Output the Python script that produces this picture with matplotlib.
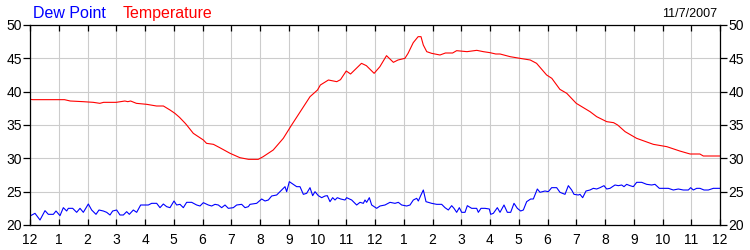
#!/usr/bin/env python3
"""Daily temperature / dew point chart for 11/7/2007."""
import matplotlib
matplotlib.use("Agg")
import matplotlib.pyplot as plt

# hours since midnight
temp_hours = [0, 0.1, 1.04, 1.2, 1.4, 1.85, 2.2, 2.43, 2.56, 3.0, 3.3, 3.4, 3.5, 3.7,
              4.06, 4.4, 4.64, 4.87, 5.04, 5.2, 5.4, 5.45, 5.68, 6.03, 6.14, 6.38,
              6.6, 6.96, 7.3, 7.6, 7.94, 8.11, 8.46, 8.81, 9.1, 9.74, 10.0, 10.1,
              10.38, 10.67, 10.8, 11.0, 11.15, 11.53, 11.7, 11.97, 12.17, 12.4,
              12.64, 12.8, 13.04, 13.15, 13.33, 13.5, 13.6, 13.68, 13.8, 13.97,
              14.26, 14.45, 14.7, 14.84, 15.2, 15.54, 15.77, 16.0, 16.2, 16.35,
              16.7, 17.04, 17.4, 17.62, 17.97, 18.15, 18.43, 18.67, 19.0, 19.48,
              19.71, 20.06, 20.3, 20.44, 20.7, 21.1, 21.68, 22.15, 22.6, 22.96,
              23.3, 23.42, 24.0]
temperature = [38.85, 38.8, 38.8, 38.8, 38.6, 38.5, 38.4, 38.25, 38.4, 38.4, 38.6,
               38.5, 38.6, 38.25, 38.1, 37.85, 37.85, 37.25, 36.75, 36.15, 35.25,
               35.0, 33.75, 32.75, 32.25, 32.1, 31.6, 30.75, 30.1, 29.85, 29.85,
               30.25, 31.25, 33.0, 35.0, 39.25, 40.25, 41.0, 41.75, 41.5, 41.8,
               43.1, 42.65, 44.25, 43.9, 42.75, 43.75, 45.4, 44.4, 44.75, 45.0,
               45.75, 47.35, 48.25, 48.25, 47.0, 46.0, 45.75, 45.5, 45.8, 45.8,
               46.15, 46.0, 46.2, 46.0, 45.85, 45.65, 45.65, 45.25, 45.0, 44.75,
               44.25, 42.5, 42.0, 40.35, 39.75, 38.25, 37.0, 36.25, 35.5, 35.35,
               35.0, 34.0, 33.0, 32.1, 31.75, 31.1, 30.65, 30.65, 30.35, 30.35]

# dew point read as (zoomed pixel x, value) per segment, converted to hours below
dew_seg1_x = [92, 105, 120, 135, 145, 160, 168, 180, 190, 200, 205, 218, 230, 240,
              250, 265, 275, 288, 297, 310, 320, 330, 338, 350, 360, 370, 380, 388,
              400, 410, 422, 435, 445, 455, 470, 480, 490, 500, 510, 522, 530, 540,
              550, 560, 575, 590, 600, 610, 625, 635, 645, 655, 665, 675, 685, 700,
              710, 725, 735, 745]
dew_seg1 = [21.4, 21.75, 20.75, 22.15, 21.6, 21.6, 22.1, 21.4, 22.6, 22.1, 22.5,
            22.5, 21.9, 22.5, 21.9, 23.15, 22.25, 21.6, 22.25, 22.1, 21.9, 21.5,
            22.1, 22.25, 21.5, 21.5, 22.0, 21.6, 22.25, 21.9, 23.0, 23.0, 23.0,
            23.25, 23.25, 22.6, 23.15, 22.75, 22.6, 23.6, 23.0, 23.1, 22.6, 23.4,
            23.4, 23.0, 22.85, 23.35, 23.0, 22.85, 23.1, 23.0, 22.6, 23.0, 22.5,
            22.6, 23.0, 23.1, 22.6, 22.75]
dew_seg2_x = [0, 20, 35, 45, 55, 65, 80, 95, 105, 110, 118, 130, 140, 150, 160, 170,
              180, 188, 195, 205, 215, 225, 232, 240, 248, 255, 262, 272, 285, 290,
              305, 320, 330, 340, 345, 350, 358, 365, 380, 390, 405, 420, 435, 445,
              455, 470, 480, 490, 500, 505, 512, 520, 528, 545, 560, 575, 585, 595,
              605, 612, 620, 628, 635, 645, 652, 665, 680, 685, 693, 705, 718, 722,
              730, 742]
dew_seg2 = [23.1, 23.25, 23.9, 23.6, 23.75, 24.35, 24.5, 25.25, 25.75, 25.0, 26.5,
            26.1, 25.75, 25.75, 24.6, 24.75, 25.6, 24.4, 25.0, 24.4, 24.1, 24.35,
            24.4, 23.5, 24.1, 23.75, 24.1, 23.9, 23.75, 24.1, 23.75, 23.0, 23.4,
            23.25, 23.75, 23.4, 24.1, 23.0, 22.5, 22.85, 23.0, 23.4, 23.25, 23.4,
            23.0, 22.85, 23.0, 23.75, 24.0, 23.6, 24.4, 25.25, 23.5, 23.25, 23.1,
            23.1, 22.6, 22.25, 22.9, 22.5, 21.9, 22.6, 21.9, 21.9, 22.9, 22.5,
            22.5, 21.9, 22.5, 22.5, 22.4, 21.6, 21.75, 22.6]
dew_seg3_x = [0, 12, 22, 32, 42, 52, 62, 70, 80, 92, 100, 112, 120, 135, 145, 155,
              170, 180, 195, 205, 215, 222, 235, 240, 248, 258, 270, 280, 290, 300,
              312, 320, 330, 345, 355, 365, 372, 380, 390, 400, 410, 425, 440, 455,
              465, 478, 490, 505, 520, 535, 550, 565, 572, 580, 590, 600, 612, 625,
              640, 660]
dew_seg3 = [21.9, 23.0, 21.9, 21.9, 23.25, 22.5, 22.1, 22.25, 23.5, 23.9, 23.9,
            25.4, 24.9, 25.1, 25.0, 25.6, 25.6, 24.9, 24.6, 25.9, 25.25, 24.6,
            24.5, 24.6, 24.1, 25.1, 25.25, 25.5, 25.4, 25.6, 25.9, 25.4, 25.5,
            26.0, 25.9, 26.0, 25.75, 26.1, 25.9, 25.75, 26.4, 26.4, 26.1, 26.0,
            26.1, 25.5, 25.5, 25.5, 25.25, 25.4, 25.25, 25.25, 25.6, 25.25, 25.5,
            25.5, 25.25, 25.25, 25.5, 25.5]

hour_labels = ["12", "1", "2", "3", "4", "5", "6", "7", "8", "9", "10", "11",
               "12", "1", "2", "3", "4", "5", "6", "7", "8", "9", "10", "11", "12"]
date_label = "11/7/2007"


def seg_hours(xs, offset):
    # zoomed pixel -> hour of day
    return [(offset + x) / 86.25 for x in xs]


dew_hours = (seg_hours(dew_seg1_x, -90) + seg_hours(dew_seg2_x, 660)
             + seg_hours(dew_seg3_x, 1410))
dew_point = dew_seg1 + dew_seg2 + dew_seg3

plt.rcParams["font.family"] = ["Liberation Sans", "DejaVu Sans"]

fig = plt.figure(figsize=(7.5, 2.5), dpi=100)
ax = fig.add_axes([0.04, 0.1, 0.92, 0.8])

ax.plot(dew_hours, dew_point, color="#0000ff", lw=0.8)
ax.plot(temp_hours, temperature, color="#ff0000", lw=0.8)

ax.set_xlim(0, 24)
ax.set_ylim(20, 50)
ax.set_xticks(range(25))
ax.set_xticklabels(hour_labels)
ax.set_yticks(range(20, 51, 5))
ax.grid(True, color="#cccccc", lw=0.8)
ax.set_axisbelow(True)
for s in ax.spines.values():
    s.set_linewidth(0.9)

ax.tick_params(axis="x", direction="in", length=4, width=0.9, top=True,
               labelsize=10, pad=6)
ax.tick_params(axis="y", direction="out", length=5, width=0.9, right=True,
               labelright=True, labelsize=10, pad=1)

fig.text(0.044, 0.945, "Dew Point", color="#0000ff", fontsize=11.5, va="center")
fig.text(0.164, 0.945, "Temperature", color="#ff0000", fontsize=11.5, va="center")
fig.text(0.956, 0.945, date_label, color="black", fontsize=9, ha="right", va="center")

fig.savefig("out.png", dpi=100)
